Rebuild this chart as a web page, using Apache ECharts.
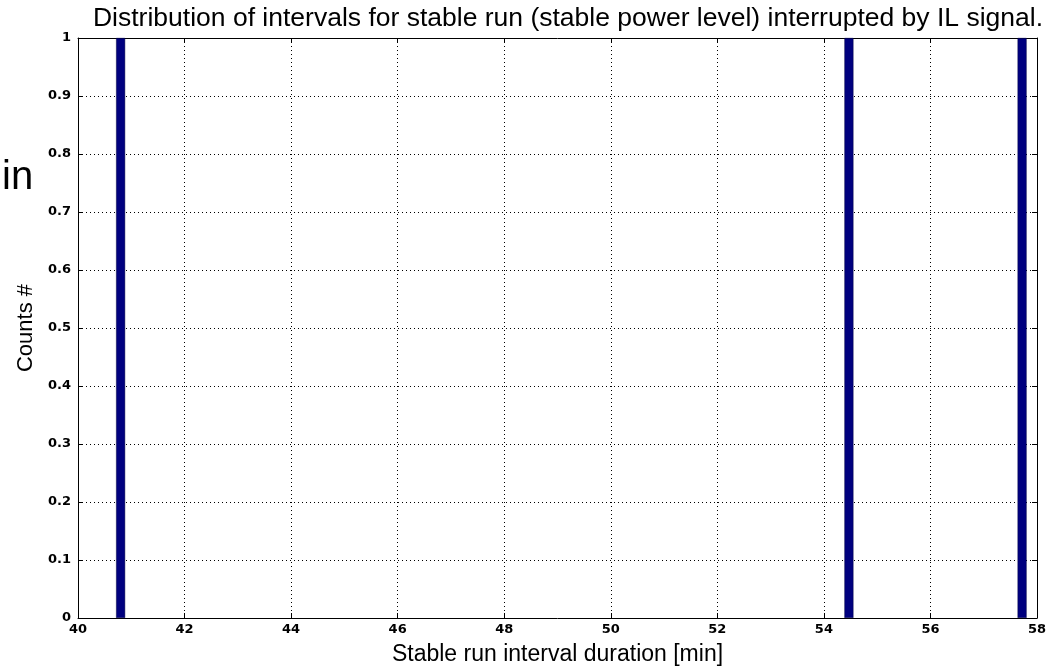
<!DOCTYPE html>
<html><head><meta charset="utf-8">
<script src="https://cdn.jsdelivr.net/npm/echarts@6/dist/echarts.min.js"></script>
<style>html,body{margin:0;padding:0;background:#fff}#c{width:1057px;height:667px}</style>
</head><body><div id="c"></div>
<script>
const binCenters = [40.8, 54.47, 57.72];
const counts = [1, 1, 1];
const xTicks = [40, 42, 44, 46, 48, 50, 52, 54, 56, 58];
const yTicks = [0, 0.1, 0.2, 0.3, 0.4, 0.5, 0.6, 0.7, 0.8, 0.9, 1];

const chart = echarts.init(document.getElementById('c'));
const tickFont = {fontFamily: 'DejaVu Sans', fontWeight: 'bold', fontSize: 13, color: '#000'};
const gridLine = {show: true, lineStyle: {color: '#000', type: [1, 3], width: 1}};
chart.setOption({
  animation: false,
  backgroundColor: '#fff',
  title: {
    text: 'Distribution of intervals for stable run (stable power level) interrupted by IL signal.',
    left: 563, top: 0, textAlign: 'center',
    textStyle: {fontFamily: 'Liberation Sans, Arial', fontWeight: 'normal', fontSize: 26.5, color: '#000'}
  },
  graphic: [{
    type: 'text', left: 2, top: 158,
    style: {text: 'in', font: '40px "Liberation Sans", Arial', fill: '#000'}
  }],
  grid: {left: 78, right: 20, top: 38, bottom: 49, containLabel: false, outerBoundsMode: 'none'},
  xAxis: [{
    type: 'value', min: xTicks[0], max: xTicks[xTicks.length - 1], interval: 2,
    name: 'Stable run interval duration [min]', nameLocation: 'middle', nameGap: 25,
    nameTextStyle: {fontFamily: 'Liberation Sans, Arial', fontSize: 23, color: '#000'},
    axisLine: {show: true, onZero: false, lineStyle: {color: '#000', width: 1}},
    axisTick: {show: true, inside: true, length: 5, lineStyle: {color: '#000'}},
    axisLabel: Object.assign({margin: 5}, tickFont),
    splitLine: gridLine
  }, {
    type: 'value', position: 'top', min: xTicks[0], max: xTicks[xTicks.length - 1], interval: 2,
    axisLine: {show: true, onZero: false, lineStyle: {color: '#000', width: 1}},
    axisTick: {show: true, inside: true, length: 5, lineStyle: {color: '#000'}},
    axisLabel: {show: false}, splitLine: {show: false}
  }],
  yAxis: [{
    type: 'value', min: yTicks[0], max: yTicks[yTicks.length - 1], interval: 0.1,
    name: 'Counts #', nameLocation: 'middle', nameGap: 40,
    nameTextStyle: {fontFamily: 'Liberation Sans, Arial', fontSize: 22, color: '#000'},
    axisLine: {show: true, onZero: false, lineStyle: {color: '#000', width: 1}},
    axisTick: {show: true, inside: true, length: 5, lineStyle: {color: '#000'}},
    axisLabel: Object.assign({margin: 7, formatter: v => String(+v.toFixed(1))}, tickFont),
    splitLine: gridLine
  }, {
    type: 'value', position: 'right', min: yTicks[0], max: yTicks[yTicks.length - 1], interval: 0.1,
    axisLine: {show: true, onZero: false, lineStyle: {color: '#000', width: 1}},
    axisTick: {show: true, inside: true, length: 5, lineStyle: {color: '#000'}},
    axisLabel: {show: false}, splitLine: {show: false}
  }],
  series: [{
    type: 'bar', xAxisIndex: 0, yAxisIndex: 0,
    barWidth: 9,
    itemStyle: {color: '#00007f', borderColor: '#000040', borderWidth: 0.5},
    data: binCenters.map((x, i) => [x, counts[i]])
  }]
});
</script></body></html>
